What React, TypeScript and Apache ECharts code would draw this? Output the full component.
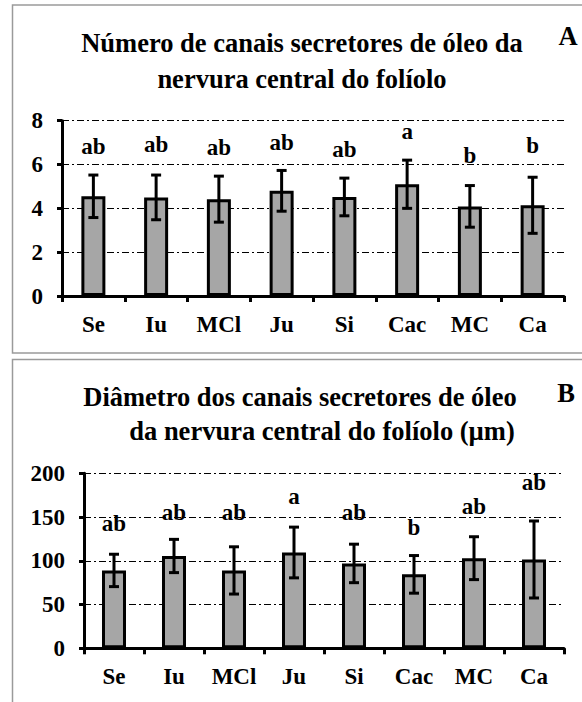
import React, { useEffect, useRef } from "react";
import * as echarts from "echarts";

const categories = ["Se", "Iu", "MCl", "Ju", "Si", "Cac", "MC", "Ca"];

const titleA1 = "Número de canais secretores de óleo da";
const titleA2 = "nervura central do folíolo";
const meanA = [4.55, 4.5, 4.42, 4.8, 4.52, 5.1, 4.09, 4.14];
const errA = [0.97, 1.02, 1.05, 0.93, 0.86, 1.1, 0.95, 1.28];
const lettersA = ["ab", "ab", "ab", "ab", "ab", "a", "b", "b"];
const letterPosA = [6.8, 6.9, 6.77, 7.0, 6.67, 7.5, 6.4, 6.86];
const axisA = { min: 0, max: 8, interval: 2 };

const titleB1 = "Diâmetro dos canais secretores de óleo";
const titleB2 = "da nervura central do folíolo (µm)";
const meanB = [89, 105.5, 89, 109.5, 97, 84.5, 103, 101.5];
const errB = [18.5, 19, 27, 29, 22, 21.5, 24.5, 44];
const lettersB = ["ab", "ab", "ab", "a", "ab", "b", "ab", "ab"];
const letterPosB = [143, 155, 155, 173, 155, 138, 162.6, 189];
const axisB = { min: 0, max: 200, interval: 50 };

const FONT = "Liberation Serif";
const LABEL_SIZE = 23;
const TITLE_SIZE = 26.5;

function errorRender(params: any, api: any) {
  const x = api.value(0);
  const lo = api.value(1);
  const hi = api.value(2);
  const pHi = api.coord([x, hi]);
  const pLo = api.coord([x, lo]);
  const half = 5;
  const style = { stroke: "#000", lineWidth: 3, fill: "none" };
  return {
    type: "group",
    children: [
      { type: "line", shape: { x1: pHi[0], y1: pHi[1], x2: pLo[0], y2: pLo[1] }, style },
      { type: "line", shape: { x1: pHi[0] - half, y1: pHi[1], x2: pHi[0] + half, y2: pHi[1] }, style },
      { type: "line", shape: { x1: pLo[0] - half, y1: pLo[1], x2: pLo[0] + half, y2: pLo[1] }, style },
    ],
  };
}

function makeAxes(gridIndex: number, ax: { min: number; max: number; interval: number }) {
  const xAxis = {
    type: "category",
    gridIndex,
    data: categories,
    boundaryGap: true,
    axisLine: { show: true, lineStyle: { color: "#000", width: 3 } },
    axisTick: { show: true, interval: 0, length: 6, lineStyle: { color: "#000", width: 3 } },
    axisLabel: {
      interval: 0,
      margin: 17,
      color: "#000",
      fontFamily: FONT,
      fontWeight: "bold",
      fontSize: LABEL_SIZE,
    },
    splitLine: { show: false },
  };
  const yAxis = {
    type: "value",
    gridIndex,
    min: ax.min,
    max: ax.max,
    interval: ax.interval,
    axisLine: { show: true, lineStyle: { color: "#000", width: 3 } },
    axisTick: { show: true, length: 5, lineStyle: { color: "#000", width: 3 } },
    axisLabel: {
      margin: 19,
      color: "#000",
      fontFamily: FONT,
      fontWeight: "bold",
      fontSize: LABEL_SIZE,
    },
    splitLine: { show: true, lineStyle: { color: "#000", width: 1, type: [7, 3, 2, 3] } },
  };
  return { xAxis, yAxis };
}

function makeSeries(idx: number, mean: number[], err: number[], letters: string[], pos: number[]) {
  return [
    {
      type: "bar",
      xAxisIndex: idx,
      yAxisIndex: idx,
      data: mean,
      barWidth: 24,
      itemStyle: { color: "#a6a6a6", borderColor: "#000", borderWidth: 3 },
      z: 2,
    },
    {
      type: "custom",
      xAxisIndex: idx,
      yAxisIndex: idx,
      renderItem: errorRender,
      encode: { x: 0, y: [1, 2] },
      data: mean.map((m, i) => [i, m - err[i], m + err[i]]),
      clip: false,
      z: 3,
    },
    {
      type: "scatter",
      xAxisIndex: idx,
      yAxisIndex: idx,
      symbolSize: 0,
      itemStyle: { opacity: 1, color: "#000" },
      data: pos.map((p, i) => [i, p]),
      label: {
        show: true,
        position: "inside",
        formatter: (p: any) => letters[p.dataIndex],
        color: "#000",
        opacity: 1,
        fontFamily: FONT,
        fontWeight: "bold",
        fontSize: LABEL_SIZE,
      },
      z: 4,
    },
  ];
}

function textEl(text: string, x: number, y: number, size: number) {
  return {
    type: "text",
    x,
    y,
    style: {
      text,
      font: `bold ${size}px "${FONT}"`,
      fill: "#000",
      textAlign: "center",
      textVerticalAlign: "middle",
    },
    z: 10,
  };
}

export default function App() {
  const ref = useRef<HTMLDivElement>(null);
  useEffect(() => {
    document.body.style.margin = "0";
    const chart = echarts.init(ref.current!, null, { renderer: "svg", width: 582, height: 702 });
    const a = makeAxes(0, axisA);
    const b = makeAxes(1, axisB);
    chart.setOption({
      animation: false,
      backgroundColor: "#fff",
      grid: [
        { left: 62, right: 18, top: 120.7, height: 175.3 },
        { left: 84, right: 18, top: 473.3, height: 175 },
      ],
      xAxis: [a.xAxis, b.xAxis],
      yAxis: [a.yAxis, b.yAxis],
      series: [
        ...makeSeries(0, meanA, errA, lettersA, letterPosA),
        ...makeSeries(1, meanB, errB, lettersB, letterPosB),
      ],
      graphic: [
        {
          type: "rect",
          shape: { x: 12.5, y: 5, width: 620, height: 348 },
          style: { fill: "none", stroke: "#9a9a9a", lineWidth: 1.5 },
          z: 0,
        },
        {
          type: "rect",
          shape: { x: 12.5, y: 359.5, width: 620, height: 400 },
          style: { fill: "none", stroke: "#9a9a9a", lineWidth: 1.5 },
          z: 0,
        },
        textEl(titleA1, 302, 43, TITLE_SIZE),
        textEl(titleA2, 302, 79, TITLE_SIZE),
        textEl("A", 568, 36, TITLE_SIZE),
        textEl(titleB1, 300, 397, TITLE_SIZE),
        textEl(titleB2, 322, 431, TITLE_SIZE),
        textEl("B", 566, 393, TITLE_SIZE),
      ],
    });
    return () => chart.dispose();
  }, []);
  return <div ref={ref} style={{ width: 582, height: 702, background: "#fff" }} />;
}
